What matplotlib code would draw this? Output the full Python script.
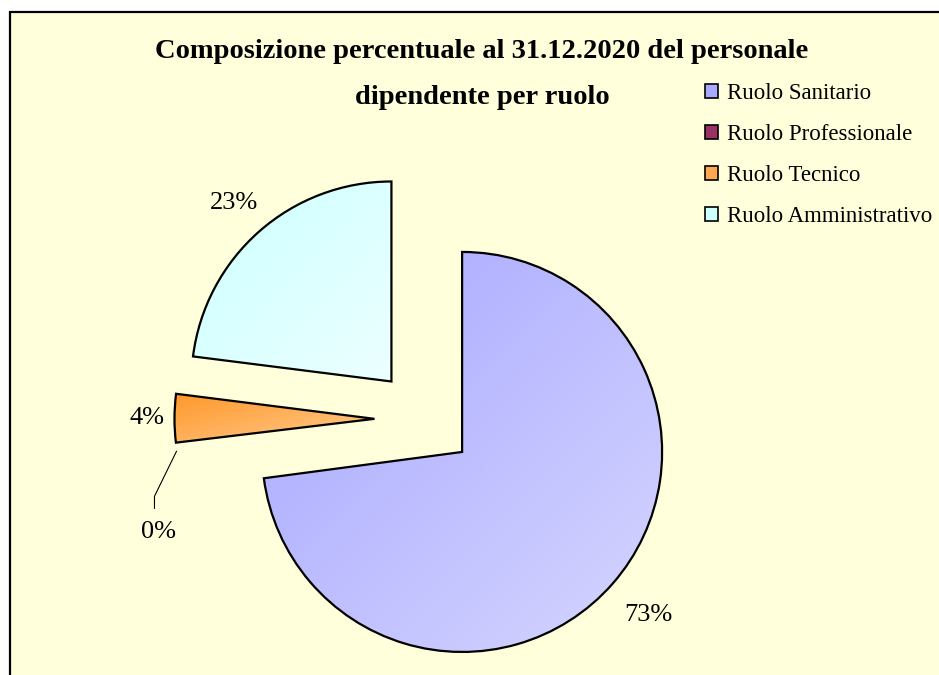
import numpy as np
import matplotlib
matplotlib.use("Agg")
import matplotlib.pyplot as plt
from matplotlib.patches import Rectangle, Patch
from matplotlib.colors import LinearSegmentedColormap

title_lines = ["Composizione percentuale al 31.12.2020 del personale",
               "dipendente per ruolo"]
roles = ["Ruolo Sanitario", "Ruolo Professionale", "Ruolo Tecnico", "Ruolo Amministrativo"]
shares = [72.9, 0.2, 3.9, 23.0]
pct_labels = ["73%", "0%", "4%", "23%"]

# gradient start/end per wedge, plus legend swatch colour
grad_from = ["#a6a6ff", "#993366", "#ff982c", "#ccffff"]
grad_to = ["#d6d6ff", "#993366", "#ffcc8e", "#ecffff"]
swatch = ["#a9a9ff", "#993366", "#ffa850", "#ccffff"]

plt.rcParams["font.family"] = ["Liberation Serif", "DejaVu Serif"]

W, H = 939, 675
fig = plt.figure(figsize=(W / 100, H / 100), dpi=100)
fig.patch.set_facecolor("white")

# chart area: pale yellow panel with black border, cut by the right/bottom edge
fig.patches.append(Rectangle((10 / W, -0.05), 1.1, 1.05 - 12 / H,
                             transform=fig.transFigure, facecolor="#ffffdc",
                             edgecolor="black", linewidth=1.6, zorder=-5))

ax = fig.add_axes([0, 0, 1, 1], zorder=1)
ax.set_facecolor("none")

wedges, _ = ax.pie(shares, explode=[0.25] * 4, startangle=90, counterclock=False,
                   radius=1, wedgeprops=dict(edgecolor="black", linewidth=1.6))

# the near-zero slice is not drawn, only its label
wedges[1].set_visible(False)

gx, gy = np.meshgrid(np.linspace(0, 1, 300), np.linspace(0, 1, 300))
ramp = (gx + (1 - gy)) / 2
for w, c0, c1 in zip(wedges, grad_from, grad_to):
    if not w.get_visible():
        continue
    verts = w.get_patch_transform().transform(w.get_path().vertices)
    x0, y0 = verts.min(axis=0)
    x1, y1 = verts.max(axis=0)
    cmap = LinearSegmentedColormap.from_list("g", [c0, c1])
    im = ax.imshow(ramp, cmap=cmap, origin="lower", extent=[x0, x1, y0, y1],
                   aspect="auto", zorder=1, interpolation="bilinear")
    im.set_clip_path(w)
    w.set_facecolor("none")
    w.set_zorder(2)

# percentage labels outside the wedges
label_dist = [1.24, None, 1.14, 1.19]
for w, txt, d in zip(wedges, pct_labels, label_dist):
    if d is None:
        continue
    mid = np.deg2rad((w.theta1 + w.theta2) / 2)
    cx, cy = w.center
    ax.text(cx + d * np.cos(mid), cy + d * np.sin(mid), txt, fontsize=19,
            ha="center", va="center", zorder=3)

# 0% label moved below with a leader line
wp = wedges[1]
mid = np.deg2rad((wp.theta1 + wp.theta2) / 2)
sx, sy = wp.center[0] + np.cos(mid), wp.center[1] + np.sin(mid)
ax.plot([sx, sx - 0.11, sx - 0.11], [sy - 0.005, sy - 0.23, sy - 0.29],
        color="black", linewidth=0.8, zorder=3)
ax.text(sx - 0.09, sy - 0.41, pct_labels[1], fontsize=19, ha="center",
        va="center", zorder=3)

ax.set_xlim(-2.1225, 2.5725)
ax.set_ylim(-1.28, 2.095)
ax.set_aspect("auto")
ax.axis("off")

fig.text(482 / W, 1 - 51 / H, title_lines[0], ha="center", va="center",
         fontsize=20.5, fontweight="bold")
fig.text(482 / W, 1 - 97 / H, title_lines[1], ha="center", va="center",
         fontsize=20.5, fontweight="bold")

handles = [Patch(facecolor=c, edgecolor="black", linewidth=1.2) for c in swatch]
fig.legend(handles, roles, loc="upper left", bbox_to_anchor=(705 / W, 1 - 83 / H),
           frameon=False, fontsize=16.5, handlelength=0.55, handleheight=0.55,
           handletextpad=0.4, labelspacing=0.87, borderpad=0, borderaxespad=0)

fig.savefig("out.png", dpi=100, facecolor="white")
